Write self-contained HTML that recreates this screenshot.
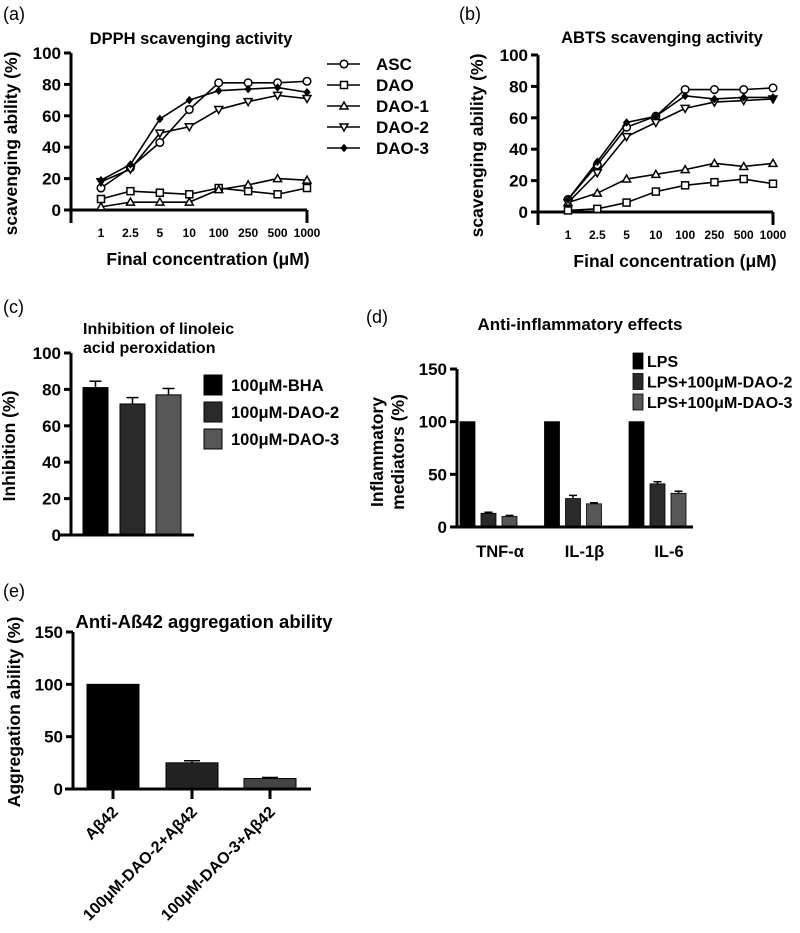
<!DOCTYPE html>
<html><head><meta charset="utf-8"><style>
html,body{margin:0;padding:0;background:#fff;}
svg{display:block;font-family:"Liberation Sans",Arial,sans-serif;}
.n{font-family:"Liberation Sans Narrow","Liberation Sans",sans-serif;}
</style></head><body>
<svg id="fig" width="800" height="933" viewBox="0 0 800 933"></svg>
<script>
// ---- Data ----
const concLabels = ["1","2.5","5","10","100","250","500","1000"];
const seriesNames = ["ASC","DAO","DAO-1","DAO-2","DAO-3"];
const dpphASC  = [14,27,43,64,81,81,81,82];
const dpphDAO  = [7,12,11,10,14,12,10,14];
const dpphDAO1 = [2,5,5,5,13,16,20,19];
const dpphDAO2 = [18,26,49,53,64,69,73,71];
const dpphDAO3 = [19,29,58,70,76,77,78,75];
const abtsASC  = [8,30,54,61,78,78,78,79];
const abtsDAO  = [1,2,6,13,17,19,21,18];
const abtsDAO1 = [6,12,21,24,27,31,29,31];
const abtsDAO2 = [6,25,48,57,66,70,71,72];
const abtsDAO3 = [8,32,57,61,74,72,73,73];
const lineTicks = [0,20,40,60,80,100];
const linCats = ["100μM-BHA","100μM-DAO-2","100μM-DAO-3"];
const linValues = [81,72,77];
const linErr = [3.5,3.5,3.5];
const cTicks = [0,20,40,60,80,100];
const inflCats = ["TNF-α","IL-1β","IL-6"];
const inflSeries = ["LPS","LPS+100μM-DAO-2","LPS+100μM-DAO-3"];
const inflLPS = [100,100,100];
const inflDAO2 = [13,27,41];
const inflDAO3 = [10,22,32];
const inflErr2 = [1,3,2];
const inflErr3 = [1,1,2];
const dTicks = [0,50,100,150];
const aggCats = ["Aβ42","100μM-DAO-2+Aβ42","100μM-DAO-3+Aβ42"];
const aggValues = [100,25,10];
const aggErr = [0,2,1];
const eTicks = [0,50,100,150];

const NS="http://www.w3.org/2000/svg";
const svg=document.getElementById('fig');
function el(tag,attrs,parent,txt){const e=document.createElementNS(NS,tag);for(const k in attrs)e.setAttribute(k,attrs[k]);if(txt!==undefined)e.textContent=txt;(parent||svg).appendChild(e);return e;}
function grp(name){const g=el('g',{});return g;}
function txt(g,x,y,s,name,opts){const t=el('text',Object.assign({x:x,y:y,'font-size':14,'font-weight':'bold','text-anchor':'middle'},opts||{}),g,s);return t;}

function marker(g,type,x,y){
  let m;
  if(type===0)m=el('circle',{cx:x,cy:y,r:3.8,fill:'#fff',stroke:'#000','stroke-width':1.5},g);
  else if(type===1)m=el('rect',{x:x-3.5,y:y-3.5,width:7,height:7,fill:'#fff',stroke:'#000','stroke-width':1.5},g);
  else if(type===2)m=el('polygon',{points:`${x},${y-4} ${x+4},${y+3} ${x-4},${y+3}`,fill:'#fff',stroke:'#000','stroke-width':1.5},g);
  else if(type===3)m=el('polygon',{points:`${x},${y+4} ${x+4},${y-3} ${x-4},${y-3}`,fill:'#fff',stroke:'#000','stroke-width':1.5},g);
  else m=el('polygon',{points:`${x},${y-3.5} ${x+3},${y} ${x},${y+3.5} ${x-3},${y}`,fill:'#000',stroke:'#000','stroke-width':1},g);
  
  
}

function lineChart(cfg){
  const g=grp(cfg.name);
  const ys=v=>cfg.y0-v*(cfg.y0-cfg.y100)/100;
  const xs=i=>cfg.x1+i*(cfg.xn-cfg.x1)/(concLabels.length-1);
  el('line',{x1:cfg.ax,y1:cfg.y100,x2:cfg.ax,y2:cfg.y0+13,stroke:'#000','stroke-width':3},g);
  el('line',{x1:cfg.ax,y1:cfg.y0,x2:cfg.xn,y2:cfg.y0,stroke:'#000','stroke-width':3},g);
  el('line',{x1:cfg.xn,y1:cfg.y0,x2:cfg.xn,y2:cfg.y0+13,stroke:'#000','stroke-width':3},g);
  lineTicks.forEach(t=>{el('line',{x1:cfg.ax-7,y1:ys(t),x2:cfg.ax,y2:ys(t),stroke:'#000','stroke-width':3},g);
    txt(g,cfg.ax-10,ys(t)+6,String(t),'y-tick-label',{'text-anchor':'end','font-size':17});});
  concLabels.forEach((c,i)=>txt(g,xs(i),cfg.y0+27,c,'x-tick-label',{'font-size':12,class:'n'}));
  cfg.series.forEach((s,si)=>{
    const pts=s.map((v,i)=>xs(i)+','+ys(v)).join(' ');
    const pl=el('polyline',{points:pts,fill:'none',stroke:'#000','stroke-width':1.6},g);
    
    
    s.forEach((v,i)=>marker(g,si,xs(i),ys(v)));
  });
  txt(g,cfg.tx,cfg.ty,cfg.title,'chart-title',{'font-size':16.5});
  txt(g,cfg.xlx,cfg.y0+55,'Final concentration (μM)','x-axis-title',{'font-size':17.5});
  const cy=(cfg.y100+cfg.y0)/2+12;
  txt(g,0,0,'scavenging ability (%)','y-axis-title',{'font-size':17.5,transform:`translate(${cfg.ylx},${cy}) rotate(-90)`});
  return g;
}

// panel labels
[['(a)',3,20],['(b)',459,20],['(c)',3,313],['(d)',366,323],['(e)',3,597]].forEach(p=>{
  const t=el('text',{x:p[1],y:p[2],'font-size':18},svg,p[0]);});

lineChart({name:'dpph-chart',ax:71,y0:210,y100:53,x1:101,xn:307,series:[dpphASC,dpphDAO,dpphDAO1,dpphDAO2,dpphDAO3],title:'DPPH scavenging activity',tx:191,ty:44,xlx:208,ylx:17});
lineChart({name:'abts-chart',ax:538,y0:212,y100:55,x1:568,xn:773,series:[abtsASC,abtsDAO,abtsDAO1,abtsDAO2,abtsDAO3],title:'ABTS scavenging activity',tx:662,ty:43,xlx:675,ylx:483});

// legend for a
const lg=grp('line-legend');
seriesNames.forEach((n,i)=>{const y=64+i*21;
  el('line',{x1:327,y1:y,x2:360,y2:y,stroke:'#000','stroke-width':1.6},lg);
  marker(lg,i,344,y);
  txt(lg,376,y+6,n,'legend-entry',{'text-anchor':'start','font-size':17});});

function errBar(g,x,yTop,yErr,w){el('line',{x1:x,y1:yTop,x2:x,y2:yErr,stroke:'#000','stroke-width':1.5},g);el('line',{x1:x-w,y1:yErr,x2:x+w,y2:yErr,stroke:'#000','stroke-width':1.5},g);}

// panel c
(function(){
  const g=grp('linoleic-chart');const ax=71,y0=535,ytop=353,max=100;
  const ys=v=>y0-v*(y0-ytop)/max;
  const bx=[83,120,156],bw=25,cols=['#000','#2a2a2a','#575757'];
  linValues.forEach((v,i)=>{errBar(g,bx[i]+bw/2,ys(v),ys(v+linErr[i]),6);
    const r=el('rect',{x:bx[i],y:ys(v),width:bw,height:y0-ys(v),fill:cols[i],stroke:'#000','stroke-width':1},g);
    });
  el('line',{x1:ax,y1:ytop,x2:ax,y2:y0,stroke:'#000','stroke-width':3},g);
  el('line',{x1:59,y1:y0,x2:194,y2:y0,stroke:'#000','stroke-width':3},g);
  cTicks.forEach(t=>{el('line',{x1:ax-7,y1:ys(t),x2:ax,y2:ys(t),stroke:'#000','stroke-width':3},g);
    txt(g,ax-10,ys(t)+6,String(t),'y-tick-label',{'text-anchor':'end','font-size':17});});
  txt(g,83,334,'Inhibition of linoleic','chart-title',{'text-anchor':'start','font-size':16});
  txt(g,83,353,'acid peroxidation','chart-title',{'text-anchor':'start','font-size':16});
  txt(g,0,0,'Inhibition (%)','y-axis-title',{'font-size':17.5,transform:'translate(15,446) rotate(-90)'});
  linCats.forEach((c,i)=>{const y=385+i*27;
    const r=el('rect',{x:204,y:y-10,width:18,height:20,fill:cols[i],stroke:'#000','stroke-width':1},g);
    txt(g,231,y+6,c,'legend-entry',{'text-anchor':'start','font-size':16.5});});
})();

// panel d
(function(){
  const g=grp('inflammatory-chart');const ax=457,y0=527,y150=369;
  const ys=v=>y0-v*(y0-y150)/150;
  const cols=['#000','#2a2a2a','#575757'];
  const series=[inflLPS,inflDAO2,inflDAO3],errs=[null,inflErr2,inflErr3];
  inflCats.forEach((c,ci)=>{const gx=460+ci*84.5;
    series.forEach((s,si)=>{const x=gx+si*21,w=15,v=s[ci];
      if(errs[si])errBar(g,x+w/2,ys(v),ys(v+errs[si][ci]),4);
      const r=el('rect',{x:x,y:ys(v),width:w,height:y0-ys(v),fill:cols[si],stroke:'#000','stroke-width':0.8},g);
      });
    txt(g,gx+40,557,c,'x-tick-label',{'font-size':16.5});});
  el('line',{x1:ax,y1:y150,x2:ax,y2:y0,stroke:'#000','stroke-width':3},g);
  el('line',{x1:ax,y1:y0,x2:693,y2:y0,stroke:'#000','stroke-width':3},g);
  dTicks.forEach(t=>{el('line',{x1:ax-7,y1:ys(t),x2:ax,y2:ys(t),stroke:'#000','stroke-width':3},g);
    txt(g,ax-10,ys(t)+6,String(t),'y-tick-label',{'text-anchor':'end','font-size':17});});
  txt(g,580,330,'Anti-inflammatory effects','chart-title',{'font-size':17});
  txt(g,0,0,'Inflammatory','y-axis-title',{'font-size':17.5,transform:'translate(383,452) rotate(-90)'});
  txt(g,0,0,'mediators (%)','y-axis-title',{'font-size':17.5,transform:'translate(404,452) rotate(-90)'});
  inflSeries.forEach((n,i)=>{const y=361+i*20.5;
    const r=el('rect',{x:633,y:y-8,width:10,height:16,fill:cols[i],stroke:'#000','stroke-width':0.8},g);
    txt(g,647,y+6,n,'legend-entry',{'text-anchor':'start','font-size':16});});
})();

// panel e
(function(){
  const g=grp('aggregation-chart');const ax=73,y0=789,y150=632;
  const ys=v=>y0-v*(y0-y150)/150;
  const bx=[87,166,244],bw=52,cols=['#000','#222','#454545'];
  aggValues.forEach((v,i)=>{if(aggErr[i])errBar(g,bx[i]+bw/2,ys(v),ys(v+aggErr[i]),8);
    const r=el('rect',{x:bx[i],y:ys(v),width:bw,height:y0-ys(v),fill:cols[i],stroke:'#000','stroke-width':1},g);
    
    const cx=bx[i]+bw/2;
    el('line',{x1:cx,y1:y0,x2:cx,y2:y0+10,stroke:'#000','stroke-width':3},g);
    txt(g,0,0,aggCats[i],'x-tick-label',{'text-anchor':'end','font-size':16,transform:`translate(${cx+6},${y0+24}) rotate(-45)`});});
  el('line',{x1:ax,y1:y150,x2:ax,y2:y0,stroke:'#000','stroke-width':3},g);
  el('line',{x1:ax-8,y1:y0,x2:311,y2:y0,stroke:'#000','stroke-width':3},g);
  eTicks.forEach(t=>{el('line',{x1:ax-7,y1:ys(t),x2:ax,y2:ys(t),stroke:'#000','stroke-width':3},g);
    txt(g,ax-10,ys(t)+6,String(t),'y-tick-label',{'text-anchor':'end','font-size':17});});
  txt(g,204,628,'Anti-Aß42 aggregation ability','chart-title',{'font-size':18.5});
  txt(g,0,0,'Aggregation ability (%)','y-axis-title',{'font-size':17.5,transform:'translate(20,712) rotate(-90)'});
})();
</script>
</body></html>
